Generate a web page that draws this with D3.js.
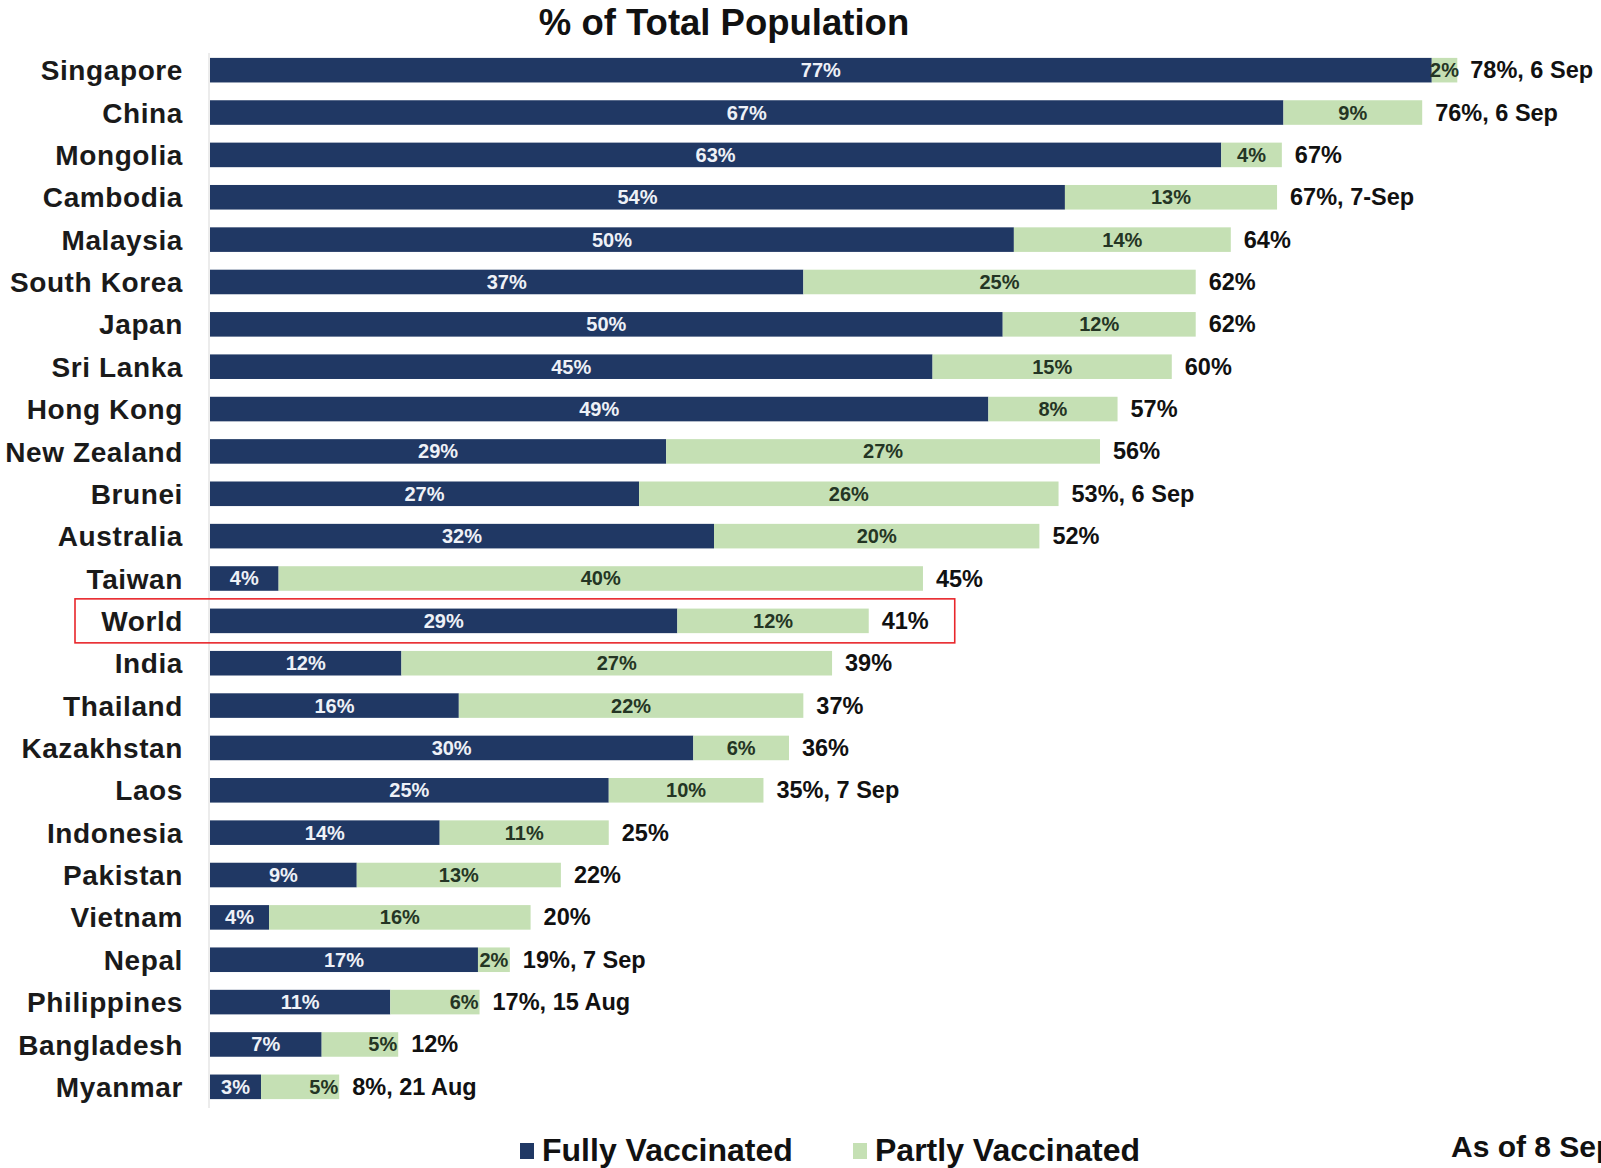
<!DOCTYPE html>
<html>
<head>
<meta charset="utf-8">
<script src="https://cdn.jsdelivr.net/npm/d3@7"></script>
<style>
  html, body { margin: 0; padding: 0; background: #fff; overflow: hidden; }
  svg { display: block; font-family: "Liberation Sans", Arial, sans-serif; font-weight: bold; }
</style>
</head>
<body>
<div id="chart"></div>
<script>
// Data (% of total population)
const COUNTRIES = ["Singapore", "China", "Mongolia", "Cambodia", "Malaysia", "South Korea",
  "Japan", "Sri Lanka", "Hong Kong", "New Zealand", "Brunei", "Australia", "Taiwan",
  "World", "India", "Thailand", "Kazakhstan", "Laos", "Indonesia", "Pakistan", "Vietnam",
  "Nepal", "Philippines", "Bangladesh", "Myanmar"];
const FULLY = [76.6, 67.3, 63.4, 53.6, 50.4, 37.2, 49.7, 45.3, 48.8, 28.6, 26.9, 31.6, 4.3,
  29.3, 12.0, 15.6, 30.3, 25.0, 14.4, 9.2, 3.7, 16.8, 11.3, 7.0, 3.2];
const PARTLY = [1.6, 8.7, 3.8, 13.3, 13.6, 24.6, 12.1, 15.0, 8.1, 27.2, 26.3, 20.4, 40.4,
  12.0, 27.0, 21.6, 6.0, 9.7, 10.6, 12.8, 16.4, 2.0, 5.6, 4.8, 4.9];
const DATES = ["6 Sep", "6 Sep", "", "7-Sep", "", "", "", "", "", "", "6 Sep", "", "",
  "", "", "", "", "7 Sep", "", "", "", "7 Sep", "15 Aug", "", "21 Aug"];
const SERIES = ["Fully Vaccinated", "Partly Vaccinated"];
const HIGHLIGHT = "World";
// rows whose partly label sits at the end of the bar
const PART_END_LABEL = ["Philippines", "Bangladesh", "Myanmar"];

const NAVY = "#203864";
const GREEN = "#c5e0b4";

const WIDTH = 1601;
const HEIGHT = 1168;

const DATA = COUNTRIES.map((c, i) => ({
  name: c,
  fully: FULLY[i],
  partly: PARTLY[i],
  total: FULLY[i] + PARTLY[i],
  date: DATES[i]
}));

const SVG = d3.select("#chart").append("svg")
  .attr("width", WIDTH)
  .attr("height", HEIGHT);

const X = d3.scaleLinear().domain([0, 100]).range([210, 1805]);
const Y = d3.scaleBand().domain(COUNTRIES).range([49, 1108]).paddingInner(0.42).paddingOuter(0.21);
const pct = v => Math.round(v) + "%";

// TITLE
SVG.append("text")
  .attr("x", 724)
  .attr("y", 35)
  .attr("text-anchor", "middle")
  .attr("font-size", 36.5)
  .attr("fill", "#111")
  .text("% of Total Population");

// AXIS (category labels + vertical line)
const Y_AXIS = SVG.append("g")
  .attr("transform", "translate(209,0)")
  .call(d3.axisLeft(Y).tickSize(0).tickPadding(26));
Y_AXIS.select(".domain")
  .attr("stroke", "#d9d9d9")
  .attr("d", "M0,53V1108");
Y_AXIS.selectAll("text")
  .attr("font-size", 28)
  .attr("letter-spacing", 0.6)
  .attr("font-family", "Liberation Sans, Arial, sans-serif")
  .attr("font-weight", "bold")
  .attr("fill", "#1a1a1a")
  .attr("dy", "0.36em");

// BARS
const ROWS = SVG.append("g").selectAll("g")
  .data(DATA)
  .join("g")
  .attr("transform", d => `translate(0,${Y(d.name)})`);

const BH = Y.bandwidth();

ROWS.append("rect")
  .attr("x", X(0))
  .attr("y", 0)
  .attr("width", d => X(d.fully) - X(0))
  .attr("height", BH)
  .attr("fill", NAVY);

ROWS.append("rect")
  .attr("x", d => X(d.fully))
  .attr("y", 0)
  .attr("width", d => X(d.total) - X(d.fully))
  .attr("height", BH)
  .attr("fill", GREEN);

// segment labels
ROWS.append("text")
  .attr("x", d => (X(0) + X(d.fully)) / 2)
  .attr("y", BH / 2 + 7)
  .attr("text-anchor", "middle")
  .attr("font-size", 20)
  .attr("fill", "#eef1f7")
  .text(d => pct(d.fully));

ROWS.append("text")
  .attr("x", d => PART_END_LABEL.includes(d.name) ? X(d.total) - 1 : (X(d.fully) + X(d.total)) / 2)
  .attr("y", BH / 2 + 7)
  .attr("text-anchor", d => PART_END_LABEL.includes(d.name) ? "end" : "middle")
  .attr("font-size", 20)
  .attr("fill", "#243524")
  .text(d => pct(d.partly));

// totals
ROWS.append("text")
  .attr("x", d => X(d.total) + 13)
  .attr("y", BH / 2 + 8)
  .attr("font-size", 23.5)
  .attr("fill", "#111")
  .text(d => pct(d.total) + (d.date ? ", " + d.date : ""));

// HIGHLIGHT BOX
const HY = Y(HIGHLIGHT) + BH / 2;
const HD = DATA.find(d => d.name === HIGHLIGHT);
SVG.append("rect")
  .attr("x", 75)
  .attr("y", HY - 22)
  .attr("width", X(HD.total) + 86 - 75)
  .attr("height", 44)
  .attr("fill", "none")
  .attr("stroke", "#e8262b")
  .attr("stroke-width", 1.6);

// LEGEND
const LEGEND = SVG.append("g").selectAll("g")
  .data(SERIES)
  .join("g")
  .attr("transform", (d, i) => `translate(${[520, 853][i]},0)`);
LEGEND.append("rect")
  .attr("x", 0)
  .attr("y", 1143)
  .attr("width", 14)
  .attr("height", 16)
  .attr("fill", (d, i) => [NAVY, GREEN][i]);
LEGEND.append("text")
  .attr("x", 22)
  .attr("y", 1161)
  .attr("font-size", 32)
  .attr("fill", "#111")
  .text(d => d);

// NOTE (cut at the right edge, as in the original)
SVG.append("text")
  .attr("x", 1451)
  .attr("y", 1157)
  .attr("font-size", 30)
  .attr("fill", "#111")
  .text("As of 8 Sep");
</script>
</body>
</html>
